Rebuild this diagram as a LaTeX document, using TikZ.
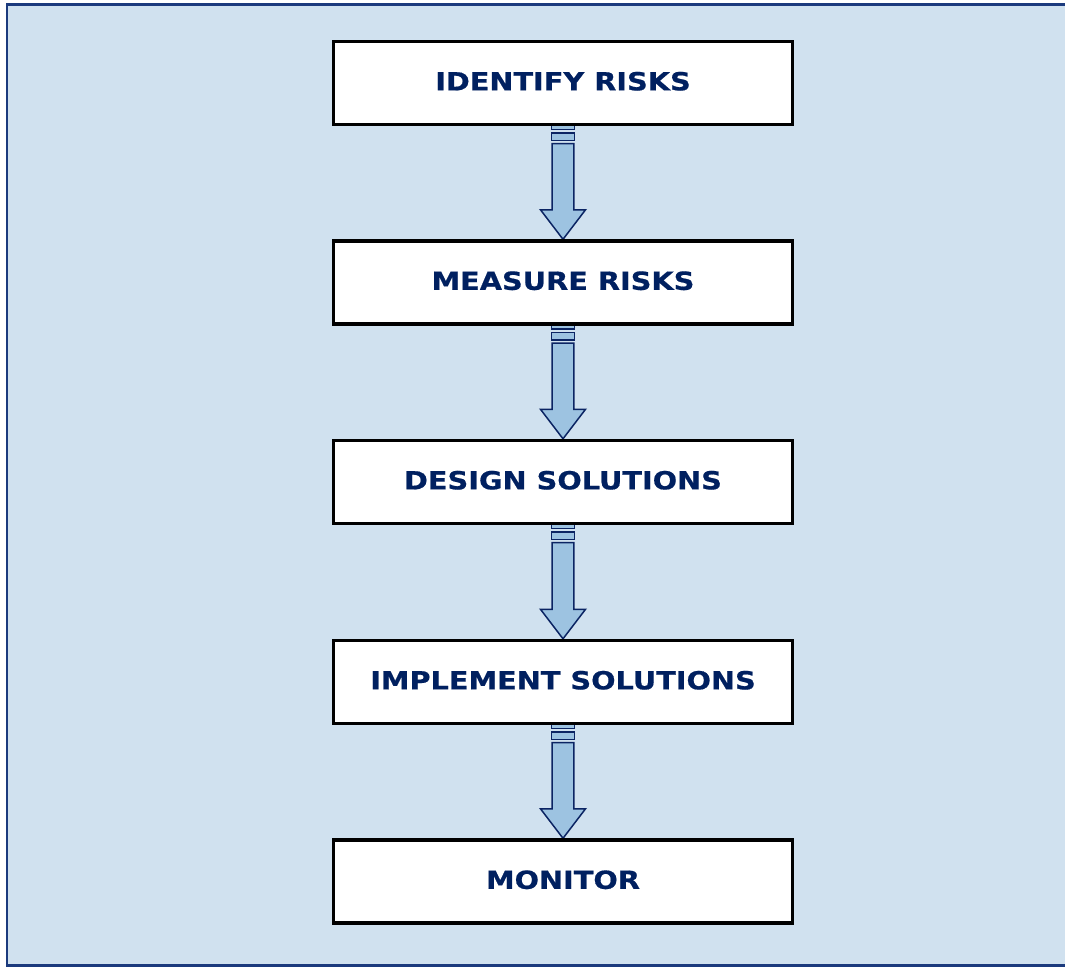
\documentclass[tikz,border=0pt]{standalone}
\usepackage{fontspec}
\usetikzlibrary{calc}
\newfontfamily\boxfont[FakeStretch=1.15, FakeBold=0.6]{DejaVu Sans}
\definecolor{panelbg}{HTML}{D0E1EF}
\definecolor{panelline}{HTML}{1B3A7D}
\definecolor{arrowfill}{HTML}{9DC3E1}
\definecolor{arrowline}{HTML}{0B2463}
\definecolor{labeltext}{HTML}{002060}

\tikzset{
  stepbox/.style={draw=black, line width=2.4pt, fill=white,
    minimum width=458pt, minimum height=82pt, inner sep=0pt,
    text depth=3.8pt, text=labeltext,
    font=\boxfont\bfseries\fontsize{25pt}{30pt}\selectfont},
  flowarrow/.style={draw=arrowline, fill=arrowfill, line width=1.5pt, line join=miter},
}

% striped block arrow from the bottom of box #1 to the top of box #2
\newcommand\stripedarrow[2]{%
  \path ($(#1.south)+(0,0)$) coordinate (s) ($(#2.north)+(0,-1)$) coordinate (t);
  \draw[flowarrow] ($(s)+(-11.3,0)$) rectangle ($(s)+(11.3,4.5)$);
  \draw[flowarrow] ($(s)+(-11.3,8)$) rectangle ($(s)+(11.3,15.3)$);
  \draw[flowarrow] ($(s)+(-10.8,18.3)$) -- ($(t)+(-10.8,-29.5)$)
    -- ($(t)+(-22.5,-29.5)$) -- (t) -- ($(t)+(22.5,-29.5)$)
    -- ($(t)+(10.8,-29.5)$) -- ($(s)+(10.8,18.3)$) -- cycle;
}

\begin{document}
\begin{tikzpicture}[x=1pt, y=-1pt]
  \useasboundingbox (0,0) rectangle (1065,966);
  \fill[white] (0,0) rectangle (1065,966);
  % panel
  \filldraw[fill=panelbg, draw=panelline, line width=2.5pt] (7.2,4.3) rectangle (1075,965.5);

  % process steps
  \node[stepbox] (identify)  at (563,83)  {IDENTIFY RISKS};
  \node[stepbox] (measure)   at (563,282.5) {MEASURE RISKS};
  \node[stepbox] (design)    at (563,482) {DESIGN SOLUTIONS};
  \node[stepbox] (implement) at (563,682) {IMPLEMENT SOLUTIONS};
  \node[stepbox] (monitor)   at (563,881.5) {MONITOR};

  % connectors between consecutive steps
  \stripedarrow{identify}{measure}
  \stripedarrow{measure}{design}
  \stripedarrow{design}{implement}
  \stripedarrow{implement}{monitor}

  % box outlines drawn again over the arrow tails
  \foreach \n in {identify,measure,design,implement,monitor}
    \draw[black, line width=2.4pt] (\n.south west) rectangle (\n.north east);
\end{tikzpicture}
\end{document}
